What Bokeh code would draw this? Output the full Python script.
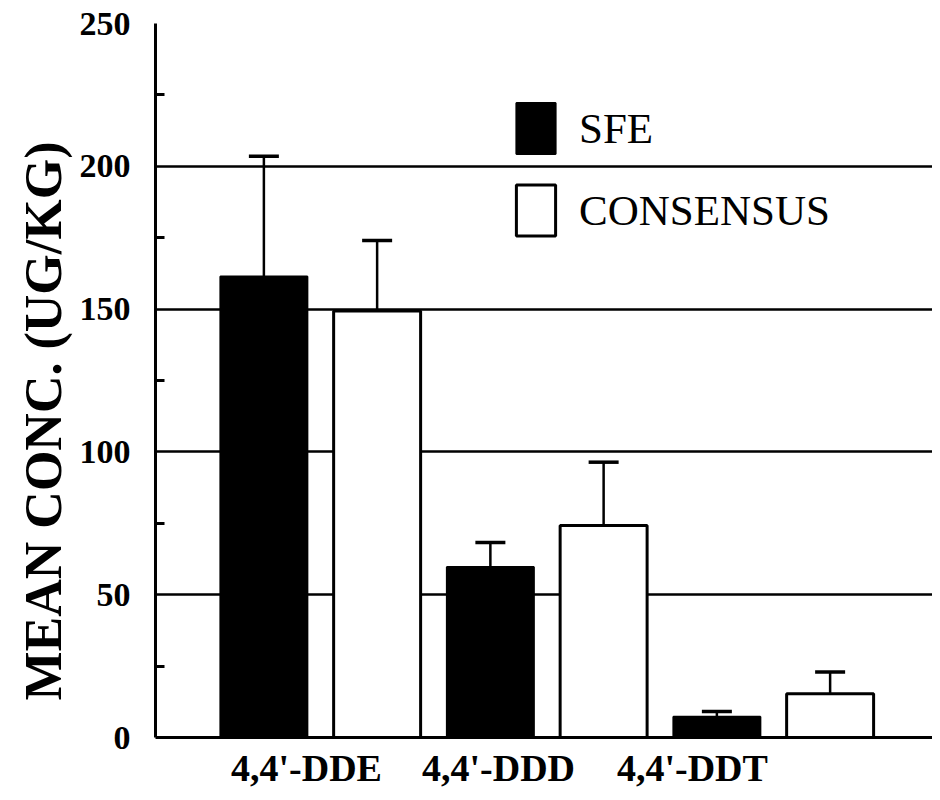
from bokeh.plotting import figure
from bokeh.models import (ColumnDataSource, Range1d, FixedTicker, Whisker, TeeHead,
                          Legend, LegendItem, Title)
from bokeh.embed import file_html
from bokeh.resources import INLINE

# ---- data ----
categories = ["4,4'-DDE", "4,4'-DDD", "4,4'-DDT"]
sfe_mean = [161.4, 59.7, 7.3]
sfe_err = [42.1, 8.6, 1.8]
cons_mean = [149.3, 74.2, 15.3]
cons_err = [24.7, 22.2, 7.6]
y_ticks = [0, 50, 100, 150, 200, 250]
y_minor = [25, 75, 125, 175, 225]

FONT = "Liberation Serif"

idx = list(range(len(categories)))
sfe_x = [i - 0.25 for i in idx]
cons_x = [i + 0.25 for i in idx]

src_sfe = ColumnDataSource(dict(x=sfe_x, top=sfe_mean,
                                up=[m + e for m, e in zip(sfe_mean, sfe_err)]))
src_cons = ColumnDataSource(dict(x=cons_x, top=cons_mean,
                                 up=[m + e for m, e in zip(cons_mean, cons_err)]))

X0 = -0.7285
p = figure(width=932, height=792, output_backend="svg", toolbar_location=None,
           x_range=Range1d(X0, 2.702), y_range=Range1d(0, 250),
           min_border_left=155, min_border_right=0, min_border_top=23,
           min_border_bottom=55)
p.outline_line_color = None
p.background_fill_color = "white"
p.border_fill_color = "white"

# grid
p.xgrid.visible = False
p.ygrid.ticker = FixedTicker(ticks=[t for t in y_ticks if t > 0])
p.ygrid.grid_line_color = "black"
p.ygrid.grid_line_width = 2.5

# bars
bw = 0.384
r_sfe = p.vbar(x="x", top="top", bottom=0, width=bw, source=src_sfe,
               fill_color="black", line_color="black", line_width=2)
r_cons = p.vbar(x="x", top="top", bottom=0, width=bw, source=src_cons,
                fill_color="white", line_color="black", line_width=3)

# error bars (upper only)
for src in (src_sfe, src_cons):
    w = Whisker(base="x", lower="top", upper="up", source=src, dimension="height",
                line_color="black", line_width=2.5,
                upper_head=TeeHead(size=30, line_width=3.5, line_color="black"),
                lower_head=None)
    p.add_layout(w)

# y axis
ya = p.yaxis[0]
ya.ticker = FixedTicker(ticks=y_ticks, minor_ticks=y_minor)
ya.axis_line_width = 3
ya.axis_line_color = "black"
ya.major_tick_in = 0
ya.major_tick_out = 0
ya.minor_tick_in = 9
ya.minor_tick_out = 0
ya.minor_tick_line_width = 3
ya.minor_tick_line_color = "black"
ya.major_label_text_font = FONT
ya.major_label_text_font_style = "bold"
ya.major_label_text_font_size = "34px"
ya.major_label_text_color = "black"
ya.major_label_standoff = 25

# y axis title (starts a little above the frame bottom, as in the reference)
ytitle = Title(text="MEAN CONC. (UG/KG)", align="left", offset=37,
               standoff=10, text_font=FONT, text_font_style="bold",
               text_font_size="52px", text_color="black")
p.add_layout(ytitle, "left")

# x axis (labels sit left of group centres as in the reference)
label_pos = [-0.062, 0.786, 1.642]
xa = p.xaxis[0]
xa.ticker = FixedTicker(ticks=label_pos)
xa.major_label_overrides = {pos: c for pos, c in zip(label_pos, categories)}
xa.axis_line_width = 3
xa.axis_line_color = "black"
xa.major_tick_in = 0
xa.major_tick_out = 0
xa.minor_tick_in = 0
xa.minor_tick_out = 0
xa.major_label_text_font = FONT
xa.major_label_text_font_style = "bold"
xa.major_label_text_font_size = "38px"
xa.major_label_text_color = "black"
xa.major_label_standoff = 9

# legend
legend = Legend(items=[LegendItem(label="SFE", renderers=[r_sfe]),
                       LegendItem(label="CONSENSUS", renderers=[r_cons])],
                location=(356, 495), orientation="vertical",
                glyph_width=49, glyph_height=64, label_height=64, spacing=18,
                padding=0, margin=0, label_standoff=19,
                border_line_color=None, background_fill_alpha=0,
                label_text_font=FONT, label_text_font_size="43px",
                label_text_color="black")
p.add_layout(legend)

open("out.html", "w").write(file_html(p, INLINE))
